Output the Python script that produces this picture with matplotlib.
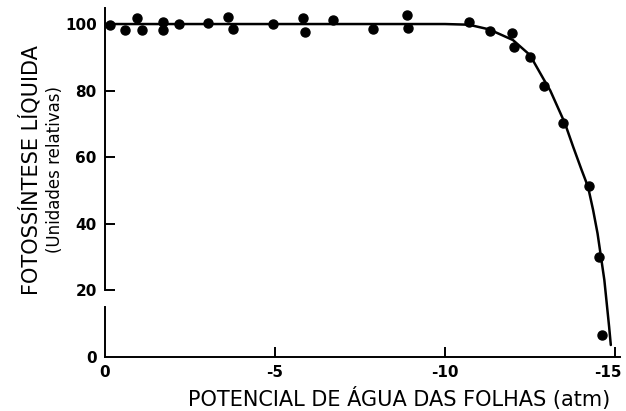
import matplotlib.pyplot as plt
import matplotlib.transforms as mtransforms

# --- dados ---
# pontos medidos (potencial em atm, fotossintese relativa)
pot_agua = [-0.15, -0.59, -0.93, -1.08, -1.71, -1.71, -2.18, -3.03, -3.62, -3.76,
            -4.93, -5.82, -5.88, -6.71, -7.88, -8.87, -8.91, -10.71, -11.34,
            -11.98, -12.03, -12.5, -12.92, -13.48, -14.25, -14.54, -14.63]
fotossintese = [99.7, 98.2, 101.7, 98.2, 100.7, 98.2, 100.0, 100.3, 102.2, 98.4,
                100.0, 101.7, 97.5, 101.2, 98.4, 102.7, 98.7, 100.7, 98.0,
                97.4, 93.0, 90.0, 81.4, 70.4, 51.5, 30.0, 6.5]

# curva ajustada (desenhada a mao no original)
curva_x = [0, -10.0, -10.7, -11.3, -12.0, -12.5, -12.9, -13.1, -13.53, -13.77,
           -14.02, -14.21, -14.36, -14.49, -14.59, -14.69, -14.76, -14.83, -14.88]
curva_y = [100, 100, 99.8, 98.4, 95.2, 90.7, 83.5, 80.0, 70.2, 63.2,
           56.2, 51.1, 44.1, 37.1, 30.1, 23.1, 16.1, 9.1, 3.6]

x_ticks = [0, -5, -10, -15]
x_tick_labels = ['0', '-5', '-10', '-15']
y_ticks = [0, 20, 40, 60, 80, 100]
y_tick_labels = ['0', '20', '40', '60', '80', '100']

# --- figura ---
fig = plt.figure(figsize=(6.26, 4.11), dpi=100)
ax = fig.add_axes([0.1677, 0.1314, 0.8227, 0.849])

ax.plot(curva_x, curva_y, color='black', linewidth=1.8,
        solid_joinstyle='round', solid_capstyle='round')
ax.plot(pot_agua, fotossintese, 'o', color='black', markersize=6.5)

ax.set_xlim(0, -15.15)
ax.set_ylim(0, 104.8)

# eixo y com a falha do original (entre ~15 e 20)
for sp in ['top', 'right', 'left']:
    ax.spines[sp].set_visible(False)
ax.spines['bottom'].set_linewidth(1.4)
ax.plot([0, 0], [0, 15], color='black', linewidth=1.4, clip_on=False)
ax.plot([0, 0], [20, 104.8], color='black', linewidth=1.4, clip_on=False)

ax.set_xticks(x_ticks)
ax.set_xticklabels(x_tick_labels)
ax.set_yticks(y_ticks)
ax.set_yticklabels(y_tick_labels)
ax.tick_params(direction='in', length=7, width=1.4, labelsize=11, pad=6)
# sem tracinho no 0 e no 100
ax.xaxis.get_major_ticks()[0].tick1line.set_visible(False)
ax.yaxis.get_major_ticks()[0].tick1line.set_visible(False)
ax.yaxis.get_major_ticks()[-1].tick1line.set_visible(False)
for lab in ax.get_xticklabels() + ax.get_yticklabels():
    lab.set_fontweight('bold')
# -15 fica colado na borda; puxar um pouco para dentro
ult = ax.get_xticklabels()[-1]
ult.set_transform(ult.get_transform() +
                  mtransforms.ScaledTranslation(-5 / 72, 0, fig.dpi_scale_trans))

ax.set_xlabel('POTENCIAL DE ÁGUA DAS FOLHAS (atm)', fontsize=15, labelpad=3)
ax.xaxis.set_label_coords(0.571, -0.085)
fig.text(0.048, 0.586, 'FOTOSSÍNTESE LÍQUIDA', rotation=90, fontsize=15,
         ha='center', va='center')
fig.text(0.088, 0.588, '(Unidades relativas)', rotation=90, fontsize=12,
         ha='center', va='center')

plt.savefig('out.png', dpi=100)
